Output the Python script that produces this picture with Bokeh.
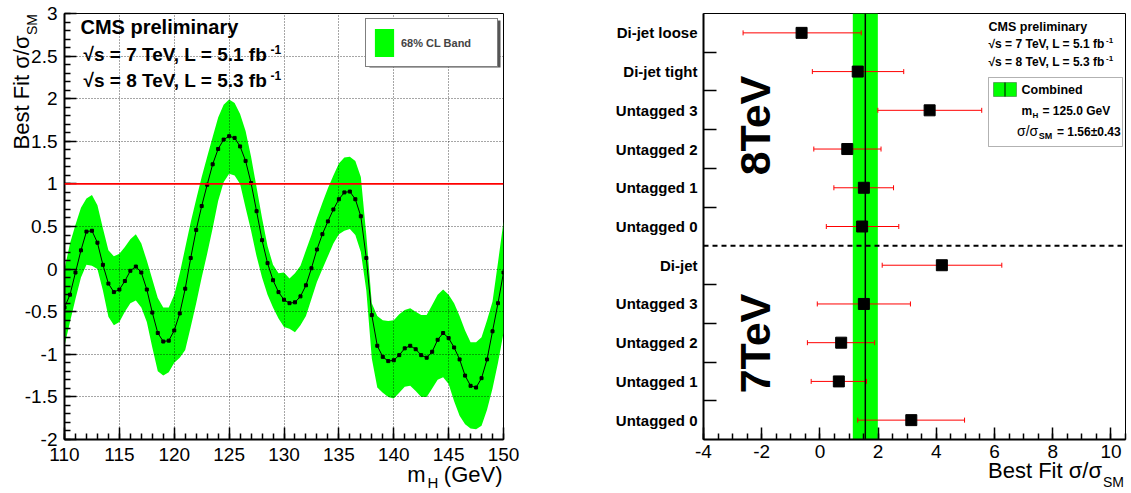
import math
from bokeh.plotting import figure
from bokeh.layouts import row
from bokeh.models import (ColumnDataSource, Span, Label, Legend, LegendItem, Whisker, TeeHead,
                          SingleIntervalTicker, FixedTicker, NumeralTickFormatter, BoxAnnotation)
from bokeh.embed import file_html
from bokeh.resources import INLINE

FONT = "Liberation Sans"
GREEN = "#00ff00"
NB = "\u00a0"

# ---------------- data: left panel (scan vs mH) ----------------
mass = [110.0, 110.5, 111.0, 111.5, 112.0, 112.5, 113.0, 113.5, 114.0, 114.5,
        115.0, 115.5, 116.0, 116.5, 117.0, 117.5, 118.0, 118.5, 119.0, 119.5,
        120.0, 120.5, 121.0, 121.5, 122.0, 122.5, 123.0, 123.5, 124.0, 124.5,
        125.0, 125.5, 126.0, 126.5, 127.0, 127.5, 128.0, 128.5, 129.0, 129.5,
        130.0, 130.5, 131.0, 131.5, 132.0, 132.5, 133.0, 133.5, 134.0, 134.5,
        135.0, 135.5, 136.0, 136.5, 137.0, 137.5, 138.0, 138.5, 139.0, 139.5,
        140.0, 140.5, 141.0, 141.5, 142.0, 142.5, 143.0, 143.5, 144.0, 144.5,
        145.0, 145.5, 146.0, 146.5, 147.0, 147.5, 148.0, 148.5, 149.0, 149.5,
        150.0]
best_fit_scan = [-0.45, -0.30, -0.04, 0.22, 0.44, 0.45, 0.31, 0.05, -0.17, -0.27,
                 -0.24, -0.14, -0.02, 0.03, -0.04, -0.24, -0.51, -0.75, -0.85, -0.84,
                 -0.72, -0.52, -0.23, 0.13, 0.46, 0.74, 0.99, 1.23, 1.41, 1.52,
                 1.56, 1.54, 1.44, 1.27, 1.01, 0.68, 0.34, 0.07, -0.13, -0.27,
                 -0.36, -0.40, -0.39, -0.32, -0.19, 0.01, 0.23, 0.41, 0.56, 0.70,
                 0.82, 0.90, 0.91, 0.82, 0.62, 0.13, -0.54, -0.90, -1.03, -1.08,
                 -1.07, -1.01, -0.93, -0.90, -0.94, -1.01, -1.04, -0.97, -0.83, -0.75,
                 -0.81, -0.92, -1.06, -1.25, -1.37, -1.39, -1.28, -1.06, -0.73, -0.40,
                 -0.04]
band_hi = [0.00, 0.30, 0.52, 0.72, 0.83, 0.87, 0.75, 0.48, 0.22, 0.15,
           0.18, 0.26, 0.35, 0.41, 0.30, 0.10, -0.12, -0.34, -0.45, -0.45,
           -0.30, -0.05, 0.25, 0.55, 0.82, 1.08, 1.32, 1.55, 1.78, 1.93,
           1.99, 1.95, 1.82, 1.62, 1.32, 0.96, 0.60, 0.27, 0.05, -0.05,
           -0.04, -0.11, -0.05, 0.04, 0.22, 0.40, 0.60, 0.78, 0.95, 1.10,
           1.24, 1.31, 1.32, 1.27, 1.08, 0.40, -0.40, -0.55, -0.60, -0.61,
           -0.60, -0.53, -0.48, -0.46, -0.50, -0.54, -0.54, -0.42, -0.30, -0.24,
           -0.30, -0.40, -0.55, -0.72, -0.86, -0.86, -0.80, -0.60, -0.38, 0.08,
           0.56]
band_lo = [-0.90, -0.62, -0.35, -0.10, 0.05, 0.04, 0.00, -0.25, -0.56, -0.66,
           -0.62, -0.50, -0.40, -0.37, -0.45, -0.62, -0.92, -1.20, -1.25, -1.21,
           -1.10, -1.04, -0.95, -0.68, -0.40, -0.10, 0.18, 0.48, 0.80, 1.02,
           1.12, 1.10, 1.00, 0.72, 0.45, 0.15, -0.10, -0.30, -0.45, -0.58,
           -0.68, -0.70, -0.74, -0.66, -0.55, -0.35, -0.15, 0.00, 0.15, 0.30,
           0.41, 0.45, 0.47, 0.40, 0.20, -0.25, -1.05, -1.39, -1.45, -1.50,
           -1.52, -1.45, -1.38, -1.37, -1.43, -1.50, -1.50, -1.40, -1.30, -1.27,
           -1.35, -1.55, -1.72, -1.82, -1.87, -1.88, -1.84, -1.65, -1.40, -1.10,
           -0.75]
sm_value = 1.0

# ---------------- data: right panel (channel compatibility) ----------------
categories = ["Di-jet loose", "Di-jet tight", "Untagged 3", "Untagged 2", "Untagged 1", "Untagged 0",
              "Di-jet", "Untagged 3", "Untagged 2", "Untagged 1", "Untagged 0"]
channel_fit = [-0.63, 1.30, 3.77, 0.94, 1.51, 1.45, 4.19, 1.51, 0.73, 0.65, 3.14]
channel_lo = [-2.64, -0.26, 1.99, -0.21, 0.48, 0.22, 2.14, -0.09, -0.43, -0.30, 1.30]
channel_hi = [1.42, 2.88, 5.56, 2.10, 2.53, 2.71, 6.25, 3.11, 1.88, 1.60, 4.97]
n_8tev = 6
combined_mu = 1.56
combined_err = 0.43
combined_mh = 125.0

# ---------------- layout constants (page pixels, page origin = canvas origin) ----------------
H = 493
W1, W2 = 560, 571
L_LEFT, L_RIGHT, TOP, BOT = 64, 503, 13, 439
R_LEFT, R_RIGHT = 703, 1125


def lx(px):
    return 110 + (px - L_LEFT) * 40.0 / (L_RIGHT - L_LEFT)


def ly(py):
    return -2 + (BOT - py) * 5.0 / (BOT - TOP)


def rx(px):
    return -4 + (px - R_LEFT) * 14.5 / (R_RIGHT - R_LEFT)


def ry(py):
    return -0.5 + (BOT - py) * 11.0 / (BOT - TOP)


def mk(x, y, text, size, bold=False, align="left", angle=0.0, family=FONT):
    # (x, y) is the middle of the text line
    return Label(x=x, y=y, text=text, text_font=family, text_font_size=f"{size}px",
                 text_font_style="bold" if bold else "normal", text_align=align,
                 text_baseline="middle", angle=angle, text_color="black")


def lab(p, *args, **kw):
    p.add_layout(mk(*args, **kw))


def mid(baseline, size):
    return baseline - 0.35 * size


def style_axis(ax, size="19px", standoff=5):
    ax.axis_line_width = 2
    ax.axis_line_color = "black"
    ax.major_tick_in = 12
    ax.major_tick_out = 0
    ax.minor_tick_in = 6
    ax.minor_tick_out = 0
    ax.major_tick_line_width = 1.5
    ax.minor_tick_line_width = 1.5
    ax.major_tick_line_color = "black"
    ax.minor_tick_line_color = "black"
    ax.major_label_text_font = FONT
    ax.major_label_text_font_size = size
    ax.major_label_text_color = "black"
    ax.major_label_standoff = standoff
    ax.axis_label = None


# ================= left figure =================
p1 = figure(width=W1, height=H, x_range=(110, 150), y_range=(-2, 3), output_backend="svg",
            toolbar_location=None, title=None,
            min_border_left=L_LEFT, min_border_right=W1 - L_RIGHT,
            min_border_top=TOP, min_border_bottom=H - BOT)
p1.outline_line_color = "black"
p1.outline_line_width = 1
p1.background_fill_color = "white"

src1 = ColumnDataSource(dict(mass=mass, mu=best_fit_scan, lo=band_lo, hi=band_hi))
band = p1.varea(x="mass", y1="lo", y2="hi", source=src1, fill_color=GREEN)
p1.line(x="mass", y="mu", source=src1, line_color="black", line_width=1)
p1.scatter(x="mass", y="mu", source=src1, marker="square", size=3, color="black")
p1.add_layout(Span(location=sm_value, dimension="width", line_color="#ff0000", line_width=1.6))

p1.xaxis.ticker = SingleIntervalTicker(interval=5, num_minor_ticks=5)
p1.yaxis.ticker = SingleIntervalTicker(interval=0.5, num_minor_ticks=5)
p1.yaxis.formatter = NumeralTickFormatter(format="0.[0]")
style_axis(p1.xaxis[0], standoff=8)
style_axis(p1.yaxis[0], standoff=7)
for g in (p1.xgrid[0], p1.ygrid[0]):
    g.grid_line_color = "black"
    g.grid_line_alpha = 0.7
    g.grid_line_dash = "1 2"
    g.grid_line_width = 1
    g.level = "guide"

# legend drop shadow (ROOT style), drawn beneath the legend box
p1.add_layout(BoxAnnotation(left=lx(369), right=lx(500), top=ly(20), bottom=ly(67),
                            fill_color="#555555", fill_alpha=1, line_color=None, level="guide"))
leg1 = Legend(items=[LegendItem(label="68% CL Band", renderers=[band])], location="top_right",
              margin=5, padding=6, spacing=0, glyph_width=24, glyph_height=35, label_standoff=5,
              label_width=90, label_text_font=FONT, label_text_font_size="11px",
              label_text_font_style="bold", border_line_color="black", border_line_width=1.2,
              background_fill_color="white", background_fill_alpha=1)
p1.add_layout(leg1)

lab(p1, lx(80), ly(mid(33, 20)), "CMS preliminary", 20, bold=True)
lab(p1, lx(83), ly(mid(61, 19)), "\u221as = 7 TeV, L = 5.1 fb", 19, bold=True)
lab(p1, lx(270), ly(mid(53, 12)), "-1", 12, bold=True)
lab(p1, lx(83), ly(mid(87, 19)), "\u221as = 8 TeV, L = 5.3 fb", 19, bold=True)
lab(p1, lx(270), ly(mid(79, 12)), "-1", 12, bold=True)

# axis titles as labels in side panels (side panel -> not clipped to the frame)
p1.add_layout(mk(lx(mid(28.3, 22)), ly(35), "Best Fit \u03c3/\u03c3", 22, align="right",
                 angle=math.pi / 2), "right")
p1.add_layout(mk(lx(mid(36.5, 14)), ly(13.5), "SM", 14, align="right", angle=math.pi / 2), "right")
p1.add_layout(mk(lx(427), ly(mid(487, 15)), "H", 15), "right")
p1.add_layout(mk(lx(502), ly(mid(482, 22)), "m" + NB * 3 + "(GeV)", 22, align="right"), "below")

# ================= right figure =================
p2 = figure(width=W2, height=H, x_range=(-4, 10.5), y_range=(-0.5, 10.5), output_backend="svg",
            toolbar_location=None, title=None,
            min_border_left=R_LEFT - W1, min_border_right=W1 + W2 - R_RIGHT,
            min_border_top=TOP, min_border_bottom=H - BOT)
p2.outline_line_color = "black"
p2.outline_line_width = 1
p2.grid.visible = False

positions = list(range(len(categories) - 1, -1, -1))
src2 = ColumnDataSource(dict(pos=positions, fit=channel_fit, lo=channel_lo, hi=channel_hi))

p2.add_layout(BoxAnnotation(left=combined_mu - combined_err, right=combined_mu + combined_err,
                            fill_color=GREEN, fill_alpha=1, line_color=None, level="underlay"))
p2.add_layout(Whisker(source=src2, base="pos", lower="lo", upper="hi", dimension="width",
                      line_color="red", line_width=1, level="underlay",
                      lower_head=TeeHead(size=5, line_color="red", line_width=1),
                      upper_head=TeeHead(size=5, line_color="red", line_width=1)))
p2.add_layout(Span(location=combined_mu, dimension="height", line_color="black",
                   line_width=1.5, level="underlay"))
p2.scatter(x="fit", y="pos", source=src2, marker="square", size=11, color="black")
sep = len(categories) - n_8tev - 0.5
p2.add_layout(Span(location=sep, dimension="width", line_color="black", line_width=2,
                   line_dash="5 4"))

xa2 = p2.xaxis[0]
style_axis(xa2, standoff=5)
xa2.ticker = SingleIntervalTicker(interval=2, num_minor_ticks=4)
xa2.formatter = NumeralTickFormatter(format="0")
yax = p2.yaxis[0]
style_axis(yax, size="15px", standoff=6)
yax.ticker = FixedTicker(ticks=positions,
                         minor_ticks=[q + 0.5 for q in positions[1:] if q + 0.5 != sep])
yax.major_label_overrides = {pos: cat for pos, cat in zip(positions, categories)}
yax.major_label_text_font_style = "bold"
yax.major_tick_line_color = None
yax.minor_tick_in = 13
yax.minor_tick_line_width = 1.5

p2.add_layout(mk(rx(1101.5), ry(mid(478, 22)), "Best Fit \u03c3/\u03c3", 22, align="right"), "below")
p2.add_layout(mk(rx(1102.5), ry(mid(486, 14)), "SM", 14), "left")

lab(p2, rx(mid(770, 43)), ry(125), "8TeV", 43, bold=True, align="center", angle=math.pi / 2)
lab(p2, rx(mid(770, 43)), ry(343), "7TeV", 43, bold=True, align="center", angle=math.pi / 2)

lab(p2, rx(988), ry(mid(31, 12.5)), "CMS preliminary", 12.5, bold=True)
lab(p2, rx(988), ry(mid(48, 12)), "\u221as = 7 TeV, L = 5.1 fb", 12, bold=True)
lab(p2, rx(1105.5), ry(mid(43, 8)), "-1", 8, bold=True)
lab(p2, rx(988), ry(mid(66, 12)), "\u221as = 8 TeV, L = 5.3 fb", 12, bold=True)
lab(p2, rx(1105.5), ry(mid(61, 8)), "-1", 8, bold=True)

p2.add_layout(BoxAnnotation(left=rx(988), right=rx(1122), top=ry(77), bottom=ry(146),
                            fill_color="white", fill_alpha=1, line_color="black", line_width=1))
p2.add_layout(BoxAnnotation(left=rx(993), right=rx(1016), top=ry(82), bottom=ry(96),
                            fill_color=GREEN, fill_alpha=1, line_color="black", line_width=1))
p2.add_layout(BoxAnnotation(left=rx(1004), right=rx(1005), top=ry(82), bottom=ry(96),
                            fill_color="black", fill_alpha=1, line_color=None))
lab(p2, rx(1021), ry(mid(93.5, 12.5)), "Combined", 12.5, bold=True)
lab(p2, rx(1021), ry(mid(114.5, 12)), "m", 12, bold=True)
lab(p2, rx(1032), ry(mid(117.5, 8)), "H", 8, bold=True)
lab(p2, rx(1042), ry(mid(114.5, 12)), f"= {combined_mh:.1f} GeV", 12, bold=True)
lab(p2, rx(1016.5), ry(mid(135.5, 14)), "\u03c3/\u03c3", 14)
lab(p2, rx(1038.3), ry(mid(138.5, 9)), "SM", 9, bold=True)
lab(p2, rx(1056.5), ry(mid(135.5, 12)), f"= {combined_mu:.2f}\u00b1{combined_err:.2f}", 12, bold=True)

layout = row(p1, p2)
open("out.html", "w").write(file_html(layout, INLINE))
